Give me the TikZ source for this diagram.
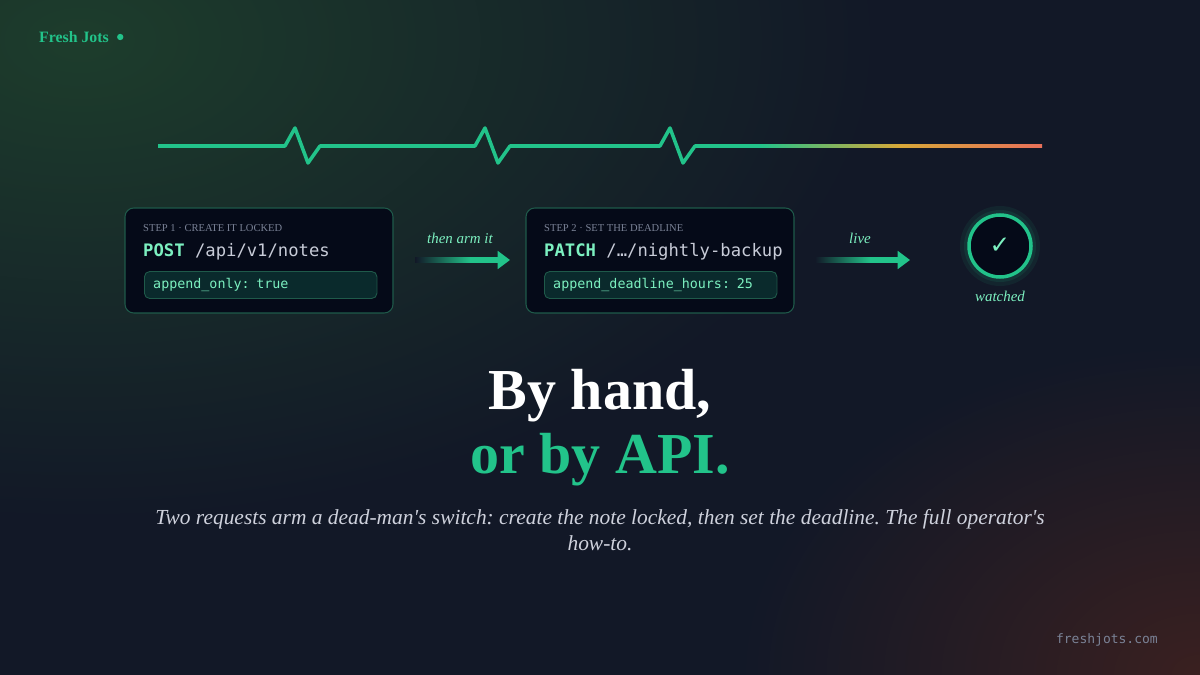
\documentclass[tikz,border=0pt]{standalone}
\usepackage{fontspec}
\setmainfont{Liberation Serif}
\setmonofont{DejaVu Sans Mono}
\usetikzlibrary{positioning,arrows.meta}
\definecolor{bgnavy}{HTML}{121827}
\definecolor{bggreen}{HTML}{1D3D2C}
\definecolor{bgred}{HTML}{3A2020}
\definecolor{jade}{HTML}{22C38A}
\definecolor{mint}{HTML}{7CF0C0}
\definecolor{cardbg}{HTML}{050A18}
\definecolor{cardedge}{HTML}{1F5A4A}
\definecolor{fieldbg}{HTML}{0A2A2C}
\definecolor{greytext}{HTML}{7A8296}
\definecolor{pathgrey}{HTML}{C8CCD8}
\definecolor{amber}{HTML}{D8A838}
\definecolor{hot}{HTML}{E8705A}
\tikzset{
  card/.style={draw=cardedge,fill=cardbg,rounded corners=5pt,line width=0.6pt},
  field/.style={draw=cardedge,fill=fieldbg,rounded corners=3pt,line width=0.5pt,
    minimum height=0.54cm,inner xsep=5pt,inner ysep=0pt,anchor=west,align=left,text=mint,
    font=\ttfamily\fontsize{7.6}{9}\selectfont},
  steplabel/.style={anchor=west,text=greytext,font=\fontsize{6}{7}\selectfont},
  verb/.style={anchor=west,font=\ttfamily\fontsize{9.8}{11}\selectfont},
  flowarrow/.style={-{Triangle[length=7pt,width=10pt]},line width=3pt,jade},
  flowlabel/.style={text=mint,font=\itshape\fontsize{8.5}{10}\selectfont},
}
\begin{document}
\begin{tikzpicture}[x=0.02cm,y=-0.02cm]
  % background
  \useasboundingbox (0,0) rectangle (1200,675);
  \clip (0,0) rectangle (1200,675);
  \fill[bgnavy] (0,0) rectangle (1200,675);
  \shade[inner color=bggreen,outer color=bgnavy] (80,40) ellipse (800 and 480);
  \shade[inner color=bgred,outer color=bgnavy] (1200,675) ellipse (460 and 330);
  % brand
  \node[anchor=west,text=jade,font=\bfseries\fontsize{9}{10}\selectfont] (brand) at (33,37) {Fresh Jots};
  \fill[jade] ([xshift=3pt]brand.east) circle (1.8pt);
  \node[anchor=east,text=greytext,font=\ttfamily\fontsize{7.4}{9}\selectfont] (site) at (1164,640) {freshjots.com};
  % heartbeat
  \draw[jade,line width=2pt,line join=round] (158,146) -- (285,146) -- (295,128) -- (308,163) -- (320,146)
    -- (475,146) -- (485,128) -- (498,163) -- (510,146)
    -- (660,146) -- (670,128) -- (683,163) -- (695,146) -- (762,146);
  \shade[left color=jade,right color=amber] (760,144.2) rectangle (900,147.8);
  \shade[left color=amber,right color=hot] (899,144.2) rectangle (1042,147.8);
  % step 1
  \draw[card] (125,208) rectangle (393,313);
  \node[steplabel] (s1) at (137,228) {STEP 1 · CREATE IT LOCKED};
  \node[verb] (p1) at (137,252) {\textcolor{mint}{\bfseries POST} \textcolor{pathgrey}{/api/v1/notes}};
  \node[field,minimum width=4.62cm,text width=4.3cm] (f1) at (144,285) {append\_only: true};
  % step 2
  \draw[card] (526,208) rectangle (794,313);
  \node[steplabel] (s2) at (538,228) {STEP 2 · SET THE DEADLINE};
  \node[verb] (p2) at (538,252) {\textcolor{mint}{\bfseries PATCH} \textcolor{pathgrey}{/…/nightly-backup}};
  \node[field,minimum width=4.62cm,text width=4.3cm] (f2) at (544,285) {append\_deadline\_hours: 25};
  % arrows
  \shade[left color=bgnavy,right color=jade] (415,257.4) rectangle (471,262.6);
  \draw[flowarrow] (470,260) -- (510,260);
  \shade[left color=bgnavy,right color=jade] (815,257.4) rectangle (871,262.6);
  \draw[flowarrow] (870,260) -- (910,260);
  \node[flowlabel] (l1) at (460,238) {then arm it};
  \node[flowlabel] (l2) at (860,238) {live};
  % watched
  \fill[jade,opacity=0.08] (1000,246) circle (40);
  \fill[jade,opacity=0.10] (1000,246) circle (36);
  \draw[jade,line width=2pt,fill=cardbg] (1000,246) circle (31) node[text=mint,font=\fontsize{14}{16}\selectfont] (chk) {\fontspec{DejaVu Sans}✓};
  \node[flowlabel] (w) at (1000,296) {watched};
  % headline
  \node[text=white,font=\bfseries\fontsize{33}{36}\selectfont] (h1) at (600,396) {By hand,};
  \node[text=jade,font=\bfseries\fontsize{33}{36}\selectfont] (h2) at (600,460) {or by API.};
  \node[text=pathgrey!90!white,font=\itshape\fontsize{12.2}{14.5}\selectfont\frenchspacing,align=center] (sub) at (600,530)
    {Two requests arm a dead-man\textquotesingle s switch: create the note locked, then set the deadline. The full operator\textquotesingle s\\how-to.};
\end{tikzpicture}
\end{document}
